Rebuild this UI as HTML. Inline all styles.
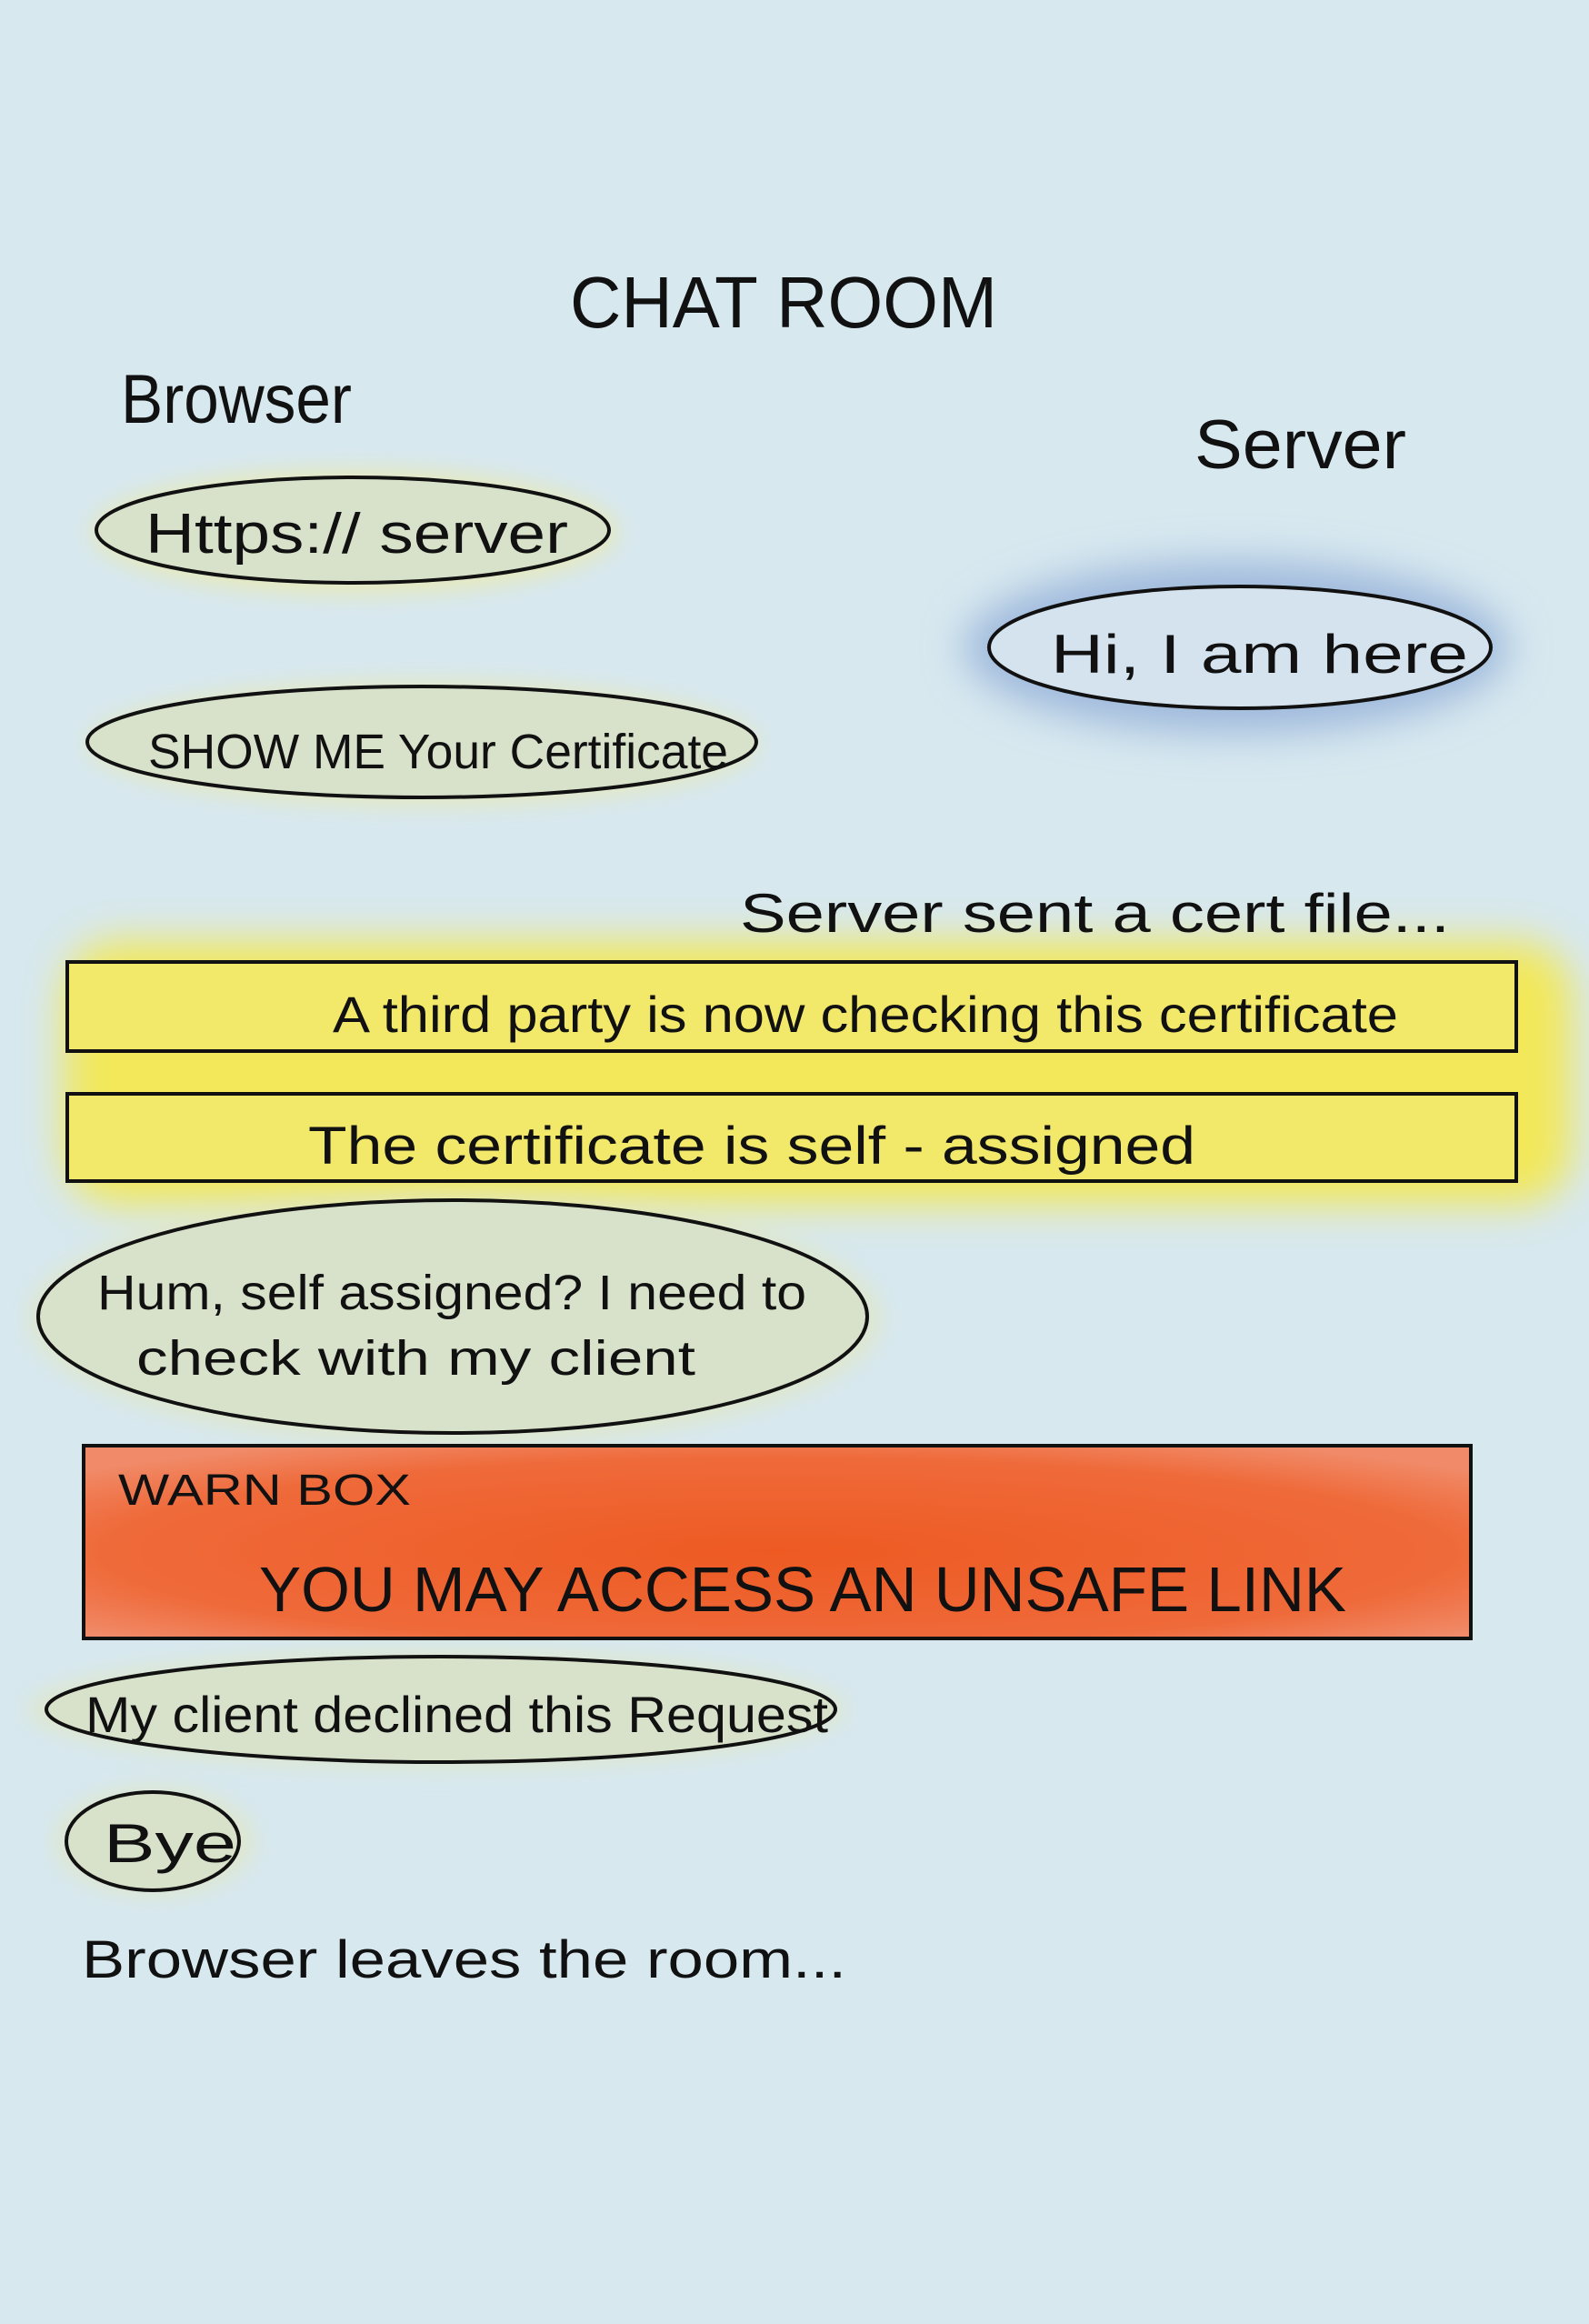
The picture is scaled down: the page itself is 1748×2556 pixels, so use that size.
<!DOCTYPE html>
<html><head><meta charset="utf-8"><style>
html,body{margin:0;padding:0}
body{width:1748px;height:2551px;background:#d7e8ef;overflow:hidden}
svg text{font-family:"Liberation Sans",sans-serif;fill:#111}
</style></head><body>
<svg width="1748" height="2551" viewBox="0 0 1748 2551" xmlns="http://www.w3.org/2000/svg">
<defs>
<filter id="b1" x="-30%" y="-60%" width="160%" height="220%"><feGaussianBlur stdDeviation="22"/></filter>
<filter id="b2" x="-30%" y="-60%" width="160%" height="220%"><feGaussianBlur stdDeviation="12"/></filter>
<radialGradient id="rg" cx="50%" cy="55%" r="65%"><stop offset="0" stop-color="#ee5a22"/><stop offset="0.75" stop-color="#ef6a3a"/><stop offset="1" stop-color="#f08a68"/></radialGradient>
</defs>
<rect width="1748" height="2551" fill="#d7e8ef"/>

<ellipse cx="390" cy="585" rx="290" ry="70" fill="#ece9a8" filter="url(#b2)" opacity="0.7"/>
<ellipse cx="1360" cy="712" rx="300" ry="95" fill="#9fb9dc" filter="url(#b1)"/>
<ellipse cx="465" cy="818" rx="370" ry="70" fill="#ece9a8" filter="url(#b2)" opacity="0.6"/>
<rect x="70" y="1035" width="1660" height="290" rx="60" fill="#f2e85a" filter="url(#b1)"/>
<ellipse cx="500" cy="1450" rx="470" ry="140" fill="#e3e6b8" filter="url(#b2)" opacity="0.6"/>
<ellipse cx="480" cy="1880" rx="450" ry="65" fill="#e3e6b8" filter="url(#b2)" opacity="0.6"/>
<ellipse cx="170" cy="2025" rx="110" ry="60" fill="#e3e6b8" filter="url(#b2)" opacity="0.6"/>

<text x="627" y="360" font-size="80" textLength="470" lengthAdjust="spacingAndGlyphs">CHAT  ROOM</text>
<text x="133" y="465" font-size="76" textLength="254" lengthAdjust="spacingAndGlyphs">Browser</text>
<text x="1314" y="515" font-size="76" textLength="233" lengthAdjust="spacingAndGlyphs">Server</text>

<ellipse cx="388" cy="583" rx="282" ry="58" fill="#d8e2cb" stroke="#111" stroke-width="4"/>
<text x="160" y="608" font-size="62" textLength="465" lengthAdjust="spacingAndGlyphs">Https:// server</text>

<ellipse cx="1364" cy="712" rx="276" ry="67" fill="#d5e3ee" stroke="#111" stroke-width="4"/>
<text x="1156" y="740" font-size="60" textLength="459" lengthAdjust="spacingAndGlyphs">Hi, I am here</text>

<ellipse cx="464" cy="816" rx="368" ry="61" fill="#d8e2cb" stroke="#111" stroke-width="4"/>
<text x="163" y="845" font-size="54" textLength="638" lengthAdjust="spacingAndGlyphs">SHOW ME Your Certificate</text>

<text x="814" y="1025" font-size="60" textLength="781" lengthAdjust="spacingAndGlyphs">Server  sent  a  cert  file...</text>

<rect x="74" y="1058" width="1594" height="98" fill="#f2e86a" stroke="#111" stroke-width="4"/>
<text x="366" y="1135" font-size="56" textLength="1172" lengthAdjust="spacingAndGlyphs">A third party is now checking this certificate</text>

<rect x="74" y="1203" width="1594" height="96" fill="#f2e86a" stroke="#111" stroke-width="4"/>
<text x="339" y="1280" font-size="58" textLength="976" lengthAdjust="spacingAndGlyphs">The certificate is self - assigned</text>

<ellipse cx="498" cy="1448" rx="456" ry="128" fill="#d8e2cb" stroke="#111" stroke-width="4"/>
<text x="107" y="1440" font-size="54" textLength="780" lengthAdjust="spacingAndGlyphs">Hum, self assigned? I need to</text>
<text x="150" y="1512" font-size="54" textLength="615" lengthAdjust="spacingAndGlyphs">check  with  my  client</text>

<rect x="92" y="1590" width="1526" height="212" fill="url(#rg)" stroke="#111" stroke-width="4"/>
<text x="130" y="1655" font-size="48" textLength="322" lengthAdjust="spacingAndGlyphs">WARN BOX</text>
<text x="285" y="1772" font-size="70" textLength="1196" lengthAdjust="spacingAndGlyphs">YOU  MAY  ACCESS  AN  UNSAFE  LINK</text>

<ellipse cx="485" cy="1880" rx="434" ry="58" fill="#d8e2cb" stroke="#111" stroke-width="4"/>
<text x="94" y="1905" font-size="56" textLength="817" lengthAdjust="spacingAndGlyphs">My client declined this Request</text>

<ellipse cx="168" cy="2025" rx="95" ry="54" fill="#d8e2cb" stroke="#111" stroke-width="4"/>
<text x="114" y="2048" font-size="60" textLength="146" lengthAdjust="spacingAndGlyphs">Bye</text>

<text x="90" y="2175" font-size="58" textLength="841" lengthAdjust="spacingAndGlyphs">Browser  leaves  the  room...</text>
</svg>
</body></html>
